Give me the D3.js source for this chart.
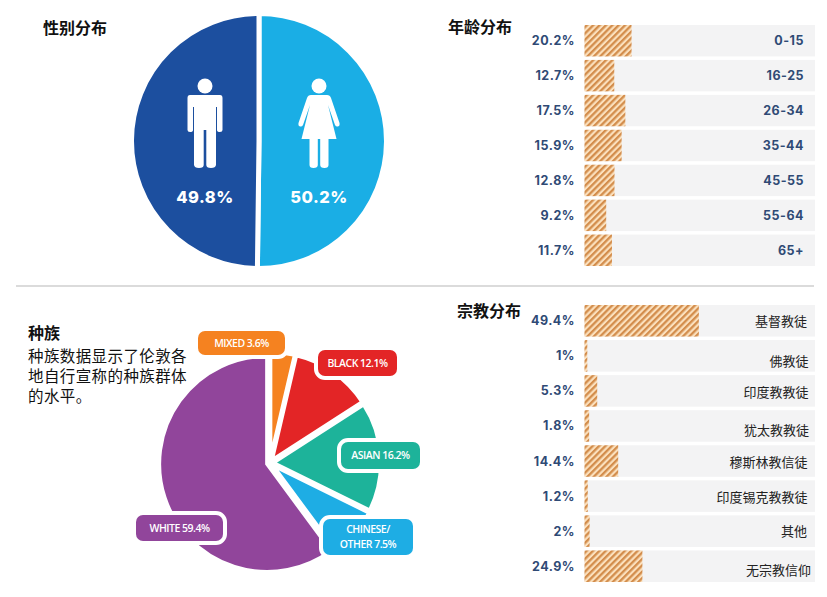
<!DOCTYPE html>
<html lang="zh">
<head>
<meta charset="UTF-8">
<title>伦敦人口构成</title>
<script src="https://d3js.org/d3.v7.min.js"></script>
<style>
    html, body { margin: 0; padding: 0; background: #fff; }
    svg { display: block; }
    text { font-family: "Noto Sans CJK SC", sans-serif; }
    .value { font-family: Inter, "Open Sans", sans-serif; font-weight: 700; font-size: 12.5px; fill: #2f4a75; letter-spacing: 0.5px; }
    .title { font-size: 16px; font-weight: 700; fill: #111; }
    .note { font-size: 15.5px; font-weight: 400; fill: #111; letter-spacing: 0.4px; }
    .rname { font-size: 13px; fill: #222; }
    .tag { font-family: "Open Sans", sans-serif; font-size: 10.5px; font-weight: 600; fill: #fff; letter-spacing: -0.5px; }
</style>
</head>
<body>
<svg width="827" height="597"></svg>
<script>
// 性别
const genderLabels = ["女", "男"];
const genderValues = [50.2, 49.8];
// 年龄
const ageGroups = ["0-15", "16-25", "26-34", "35-44", "45-55", "55-64", "65+"];
const ageValues = [20.2, 12.7, 17.5, 15.9, 12.8, 9.2, 11.7];
// 种族
const raceNames = ["MIXED", "BLACK", "ASIAN", "CHINESE/OTHER", "WHITE"];
const raceValues = [3.6, 12.1, 16.2, 7.5, 59.4];
const raceColors = ["#f58220", "#e32526", "#1db39a", "#1eade4", "#91459b"];
// 宗教
const religions = ["基督教徒", "佛教徒", "印度教教徒", "犹太教教徒", "穆斯林教信徒", "印度锡克教教徒", "其他", "无宗教信仰"];
const religionValues = [49.4, 1, 5.3, 1.8, 14.4, 1.2, 2, 24.9];

const svg = d3.select("svg");

// 斜线填充
const pattern = svg.append("defs").append("pattern")
    .attr("id", "hatch")
    .attr("width", 4.5).attr("height", 4.5)
    .attr("patternUnits", "userSpaceOnUse")
    .attr("patternTransform", "rotate(-45)");
pattern.append("rect").attr("width", 4.5).attr("height", 4.5).attr("fill", "#fbe0bd");
pattern.append("rect").attr("width", 4.5).attr("height", 2.3).attr("fill", "#d38d4c");

// 性别饼图
const genderColors = ["#1aaee5", "#1c4f9f"];
const genderG = svg.append("g").attr("transform", "translate(259,141)");
const genderArc = d3.arc().innerRadius(0).outerRadius(127.5);
genderG.selectAll("path")
    .data(d3.pie().sort(null)(genderValues))
    .join("path")
    .attr("d", genderArc)
    .attr("fill", (d, i) => genderColors[i])
    .attr("stroke", "#fff")
    .attr("stroke-width", 5);

// 小人图标
function man(g) {
    g.append("circle").attr("cy", -55).attr("r", 7.5).attr("fill", "#fff");
    g.append("path").attr("fill", "#fff").attr("d",
        "M-15,-46 H15 Q17.5,-46 17.5,-43 V-11 Q17.5,-9 15,-9 Q12,-9 12,-11 V-34 H11 V24 Q10.5,27 6,27 Q1.3,27 1.3,24 V-11 H-1.3 V24 Q-1.3,27 -6,27 Q-10.5,27 -11,24 V-34 H-12 V-11 Q-12,-9 -15,-9 Q-17.5,-9 -17.5,-11 V-43 Q-17.5,-46 -15,-46 Z");
}
function woman(g) {
    g.append("circle").attr("cy", -55).attr("r", 7.5).attr("fill", "#fff");
    g.append("path").attr("fill", "#fff").attr("d",
        "M-8,-46 H8 Q11,-46 12,-43 L20.5,-18 Q21,-15 19,-14.5 Q17,-14 16,-16 L9,-36 L17.5,-2 H9.5 V24 Q9.5,27 5.5,27 Q1.2,27 1.2,24 V-2 H-1.2 V24 Q-1.2,27 -5.5,27 Q-9.5,27 -9.5,24 V-2 H-17.5 L-9,-36 L-16,-16 Q-17,-14 -19,-14.5 Q-21,-15 -20.5,-18 L-12,-43 Q-11,-46 -8,-46 Z");
}
man(svg.append("g").attr("transform", "translate(205,141)"));
woman(svg.append("g").attr("transform", "translate(319,141)"));

svg.append("text").attr("class", "value").attr("x", 205).attr("y", 203)
    .attr("text-anchor", "middle").style("fill", "#fff").style("font-size", "16.5px").style("font-weight", 800)
    .text(genderValues[1] + "%");
svg.append("text").attr("class", "value").attr("x", 319).attr("y", 203)
    .attr("text-anchor", "middle").style("fill", "#fff").style("font-size", "16.5px").style("font-weight", 800)
    .text(genderValues[0] + "%");

// 横条
const x = d3.scaleLinear().domain([0, 100]).range([584.5, 815]);

function barRows(names, values, y0, y1, nameClass, nudges) {
    const y = d3.scaleBand().domain(names).range([y0, y1]).paddingInner(0.1);
    const rows = svg.append("g").selectAll("g")
        .data(names)
        .join("g")
        .attr("transform", d => `translate(0,${y(d)})`);
    rows.append("rect")
        .attr("x", x(0)).attr("width", x(100) - x(0)).attr("height", y.bandwidth())
        .attr("fill", "#f3f3f4");
    rows.append("rect")
        .attr("x", x(0)).attr("width", (d, i) => x(values[i]) - x(0) + 0.5).attr("height", y.bandwidth())
        .attr("fill", "url(#hatch)");
    rows.append("text")
        .attr("class", "value")
        .attr("x", 575).attr("y", y.bandwidth() / 2).attr("dy", "0.36em")
        .attr("text-anchor", "end")
        .text((d, i) => values[i] + "%");
    rows.append("text")
        .attr("class", nameClass)
        .attr("x", (d, i) => nudges ? nudges[i][0] : 804)
        .attr("y", (d, i) => y.bandwidth() / 2 + (nudges ? nudges[i][1] : 0))
        .attr("dy", "0.36em")
        .attr("text-anchor", "end")
        .text(d => d);
}
barRows(ageGroups, ageValues, 25, 266, "value");
// 宗教名称是后贴上去的，每行位置略有出入
const religionLabelPos = [[807, 0.5], [808.5, 5], [808.5, 1], [809, 4], [807.5, 1.5], [807.5, 1], [807, 0.5], [811, 4]];
barRows(religions, religionValues, 305, 582, "rname", religionLabelPos);

// 分隔线
svg.append("line").attr("x1", 16).attr("x2", 814).attr("y1", 286).attr("y2", 286)
    .attr("stroke", "#cfcfcf").attr("stroke-width", 1.5);

// 种族饼图，每块沿中线外移一点
const raceG = svg.append("g").attr("transform", "translate(270,463)");
const raceArc = d3.arc().innerRadius(0).outerRadius(108);
const explode = 3;
raceG.selectAll("path")
    .data(d3.pie().sort(null)(raceValues))
    .join("path")
    .attr("d", raceArc)
    .attr("transform", d => {
        const mid = (d.startAngle + d.endAngle) / 2;
        return `translate(${Math.sin(mid) * explode},${-Math.cos(mid) * explode})`;
    })
    .attr("fill", (d, i) => raceColors[i])
    .attr("stroke", "#fff")
    .attr("stroke-width", 4);

// 标签框
const tagBoxes = [
    [198, 331, 87, 24], [318, 350, 79, 26], [341, 442, 79, 27], [323, 519, 90, 36], [136, 515, 87, 26]
];
const tagLines = [["MIXED 3.6%"], ["BLACK 12.1%"], ["ASIAN 16.2%"], ["CHINESE/", "OTHER 7.5%"], ["WHITE 59.4%"]];
const tags = svg.append("g").selectAll("g")
    .data(tagBoxes)
    .join("g")
    .attr("transform", d => `translate(${d[0]},${d[1]})`);
tags.append("rect")
    .attr("width", d => d[2]).attr("height", d => d[3]).attr("rx", 7)
    .attr("fill", (d, i) => raceColors[i])
    .attr("stroke", "#fff").attr("stroke-width", 8).attr("paint-order", "stroke");
tags.each(function(d, i) {
    const lines = tagLines[i];
    d3.select(this).selectAll("text")
        .data(lines)
        .join("text")
        .attr("class", "tag")
        .attr("x", d[2] / 2)
        .attr("y", (l, j) => d[3] / 2 + (j - (lines.length - 1) / 2) * 15)
        .attr("dy", "0.36em")
        .attr("text-anchor", "middle")
        .text(l => l);
});

// 标题和说明
const titles = [["性别分布", 43, 34], ["年龄分布", 448, 33], ["宗教分布", 457, 317], ["种族", 28, 339]];
svg.append("g").selectAll("text")
    .data(titles)
    .join("text")
    .attr("class", "title")
    .attr("x", d => d[1]).attr("y", d => d[2])
    .text(d => d[0]);
const noteLines = ["种族数据显示了伦敦各", "地自行宣称的种族群体", "的水平。"];
svg.append("g").selectAll("text")
    .data(noteLines)
    .join("text")
    .attr("class", "note")
    .attr("x", 28).attr("y", (d, i) => 361.5 + i * 20)
    .text(d => d);
</script>
</body>
</html>
